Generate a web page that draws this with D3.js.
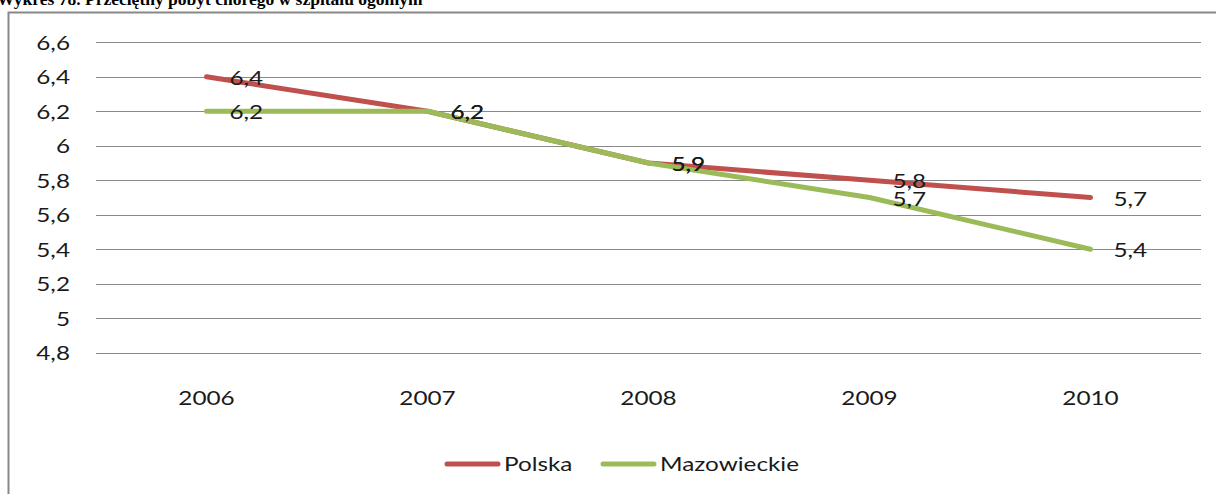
<!DOCTYPE html>
<html>
<head>
<meta charset="utf-8">
<script src="https://cdn.jsdelivr.net/npm/d3@7"></script>
<style>
  html, body { margin: 0; padding: 0; background: #fff; }
  svg { display: block; }
</style>
</head>
<body>
<svg id="chart" width="1216" height="494"></svg>
<script>
// Average hospital stay (days), Poland vs. Mazowieckie voivodeship
const years = ["2006", "2007", "2008", "2009", "2010"];
const polska = [6.4, 6.2, 5.9, 5.8, 5.7];
const mazowieckie = [6.2, 6.2, 5.9, 5.7, 5.4];
const yTicks = [4.8, 5.0, 5.2, 5.4, 5.6, 5.8, 6.0, 6.2, 6.4, 6.6];
const seriesNames = ["Polska", "Mazowieckie"];
const seriesColors = ["#C0504D", "#9BBB59"];
const titleText = "Wykres 78. Przeciętny pobyt chorego w szpitalu ogólnym";

const series = [
  { name: seriesNames[0], values: polska, color: seriesColors[0] },
  { name: seriesNames[1], values: mazowieckie, color: seriesColors[1] }
];

const svg = d3.select("#chart");
const font = "Lato, 'Open Sans', sans-serif";
const fontSize = 19;
const stretch = "scale(1.28,1)"; // widened glyphs for the chart labels
const fmt = v => String(+v.toFixed(1)).replace(".", ",");

// caption above the frame (partly clipped by the page top)
svg.append("text")
  .attr("x", -3).attr("y", 5)
  .attr("font-family", "'Liberation Serif', 'Times New Roman', serif")
  .attr("font-weight", "bold").attr("font-size", 17.5)
  .attr("fill", "#000")
  .text(titleText);

// chart frame
svg.append("path")
  .attr("d", "M8.5,494 L8.5,12.5 L1216,12.5")
  .attr("fill", "none").attr("stroke", "#888").attr("stroke-width", 2);

const plot = { left: 96, right: 1201, top: 42.3, bottom: 352.7 };

const x = d3.scaleBand().domain(years).range([plot.left, plot.right]);
const y = d3.scaleLinear().domain([4.8, 6.6]).range([plot.bottom, plot.top]);
const cx = d => x(d) + x.bandwidth() / 2;

// horizontal gridlines
svg.append("g").selectAll("line").data(yTicks).join("line")
  .attr("x1", plot.left).attr("x2", plot.right)
  .attr("y1", d => Math.round(y(d)) + 0.5).attr("y2", d => Math.round(y(d)) + 0.5)
  .attr("stroke", "#8a8a8a").attr("stroke-width", 1);

// y axis labels
const yAxis = svg.append("g")
  .attr("transform", `translate(${plot.left - 26},0)`)
  .call(d3.axisLeft(y).tickValues(yTicks).tickSize(0).tickPadding(0).tickFormat(fmt));
yAxis.select(".domain").remove();
yAxis.selectAll("text")
  .attr("font-family", font).attr("font-size", fontSize).attr("fill", "#1a1a1a")
  .attr("x", 0).attr("dy", "0.36em")
  .attr("transform", stretch);

// x axis labels
const xAxis = svg.append("g")
  .attr("transform", `translate(0,${plot.bottom})`)
  .call(d3.axisBottom(x).tickSize(0).tickPadding(0));
xAxis.select(".domain").remove();
xAxis.selectAll("text")
  .attr("font-family", font).attr("font-size", fontSize).attr("fill", "#1a1a1a")
  .attr("y", 52).attr("dy", 0)
  .attr("transform", stretch);

// series lines
const line = d3.line()
  .x((d, i) => cx(years[i]))
  .y(d => y(d));

svg.append("g").selectAll("path").data(series).join("path")
  .attr("d", d => line(d.values))
  .attr("fill", "none")
  .attr("stroke", d => d.color)
  .attr("stroke-width", 5)
  .attr("stroke-linejoin", "round")
  .attr("stroke-linecap", "round");

// value labels to the right of each point
series.forEach(s => {
  svg.append("g").selectAll("g").data(s.values).join("g")
    .attr("transform", (d, i) => `translate(${cx(years[i]) + 23},${y(d) + 8})`)
    .append("text")
    .attr("font-family", font).attr("font-size", fontSize).attr("fill", "#1a1a1a")
    .attr("transform", stretch)
    .text(fmt);
});

// legend
const legendItems = [
  { name: seriesNames[0], color: seriesColors[0], x: 445 },
  { name: seriesNames[1], color: seriesColors[1], x: 601 }
];
const lg = svg.append("g").selectAll("g").data(legendItems).join("g")
  .attr("transform", d => `translate(${d.x},464)`);
lg.append("line")
  .attr("x1", 2).attr("x2", 53).attr("y1", 0).attr("y2", 0)
  .attr("stroke", d => d.color).attr("stroke-width", 5).attr("stroke-linecap", "round");
lg.append("g").attr("transform", "translate(59,7)")
  .append("text")
  .attr("font-family", font).attr("font-size", fontSize).attr("fill", "#1a1a1a")
  .attr("transform", stretch)
  .text(d => d.name);
</script>
</body>
</html>
